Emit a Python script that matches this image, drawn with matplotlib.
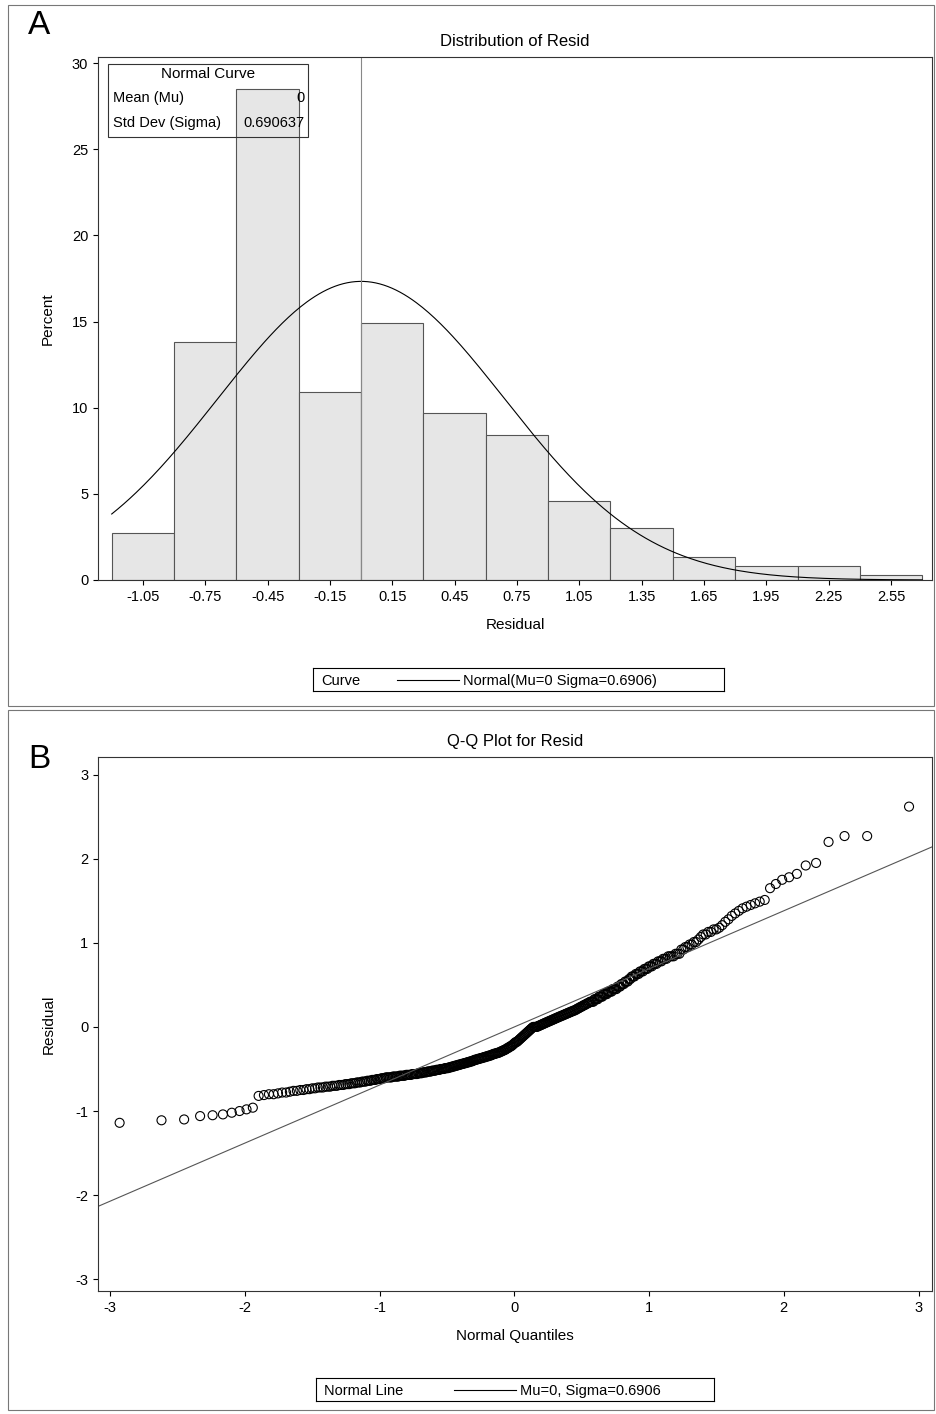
import matplotlib
matplotlib.use("Agg")
import matplotlib.pyplot as plt
import numpy as np
from statistics import NormalDist
from matplotlib.patches import Rectangle

plt.rcParams['font.family'] = ['Liberation Sans', 'DejaVu Sans']
plt.rcParams['axes.unicode_minus'] = False

# Histogram data
bin_centers = [-1.05, -0.75, -0.45, -0.15, 0.15, 0.45, 0.75, 1.05, 1.35, 1.65, 1.95, 2.25, 2.55]
percents = [2.7, 13.8, 28.5, 10.9, 14.9, 9.7, 8.4, 4.6, 3.0, 1.35, 0.8, 0.8, 0.27]
tick_labels = ["-1.05", "-0.75", "-0.45", "-0.15", "0.15", "0.45", "0.75", "1.05", "1.35", "1.65", "1.95", "2.25", "2.55"]
mu, sigma = 0.0, 0.690637

# Sorted residuals (value, frequency)
resid_values = ([-1.14, -1.11, -1.10, -1.06, -1.05, -1.04, -1.02, -1.00, -0.98, -0.96]
    + [-0.82, -0.81, -0.80, -0.79, -0.78, -0.77, -0.76, -0.75, -0.74, -0.73, -0.72, -0.71, -0.70,
       -0.69, -0.68, -0.67, -0.66, -0.65, -0.64, -0.63, -0.62, -0.61]
    + [-0.60, -0.59, -0.58, -0.57, -0.56, -0.55, -0.54, -0.53, -0.52, -0.51, -0.50, -0.49,
       -0.48, -0.47, -0.46, -0.45, -0.44, -0.43, -0.42, -0.41, -0.40, -0.39, -0.38, -0.37,
       -0.36, -0.35, -0.34, -0.33, -0.32, -0.31]
    + [-0.30, -0.29, -0.28, -0.27, -0.26, -0.25, -0.24, -0.23, -0.22, -0.21, -0.20, -0.19,
       -0.18, -0.17, -0.16, -0.15, -0.14, -0.13, -0.12, -0.11, -0.10, -0.09, -0.08, -0.07,
       -0.06, -0.05, -0.04, -0.03, -0.02, -0.01]
    + [0.00, 0.01, 0.02, 0.03, 0.04, 0.05, 0.06, 0.07, 0.08, 0.09, 0.10, 0.11, 0.12, 0.13,
       0.14, 0.15, 0.16, 0.17, 0.18, 0.19, 0.20, 0.21, 0.22, 0.23, 0.24, 0.25, 0.26, 0.27, 0.28, 0.29]
    + [0.30, 0.33, 0.36, 0.39, 0.42, 0.45, 0.48, 0.51, 0.54, 0.57]
    + [0.60, 0.63, 0.66, 0.69, 0.72, 0.75, 0.78, 0.81, 0.84, 0.87]
    + [0.92, 0.95, 0.98, 1.01, 1.04, 1.07, 1.10, 1.13, 1.16, 1.18]
    + [1.21, 1.25, 1.28, 1.32, 1.35, 1.38, 1.41, 1.43, 1.45, 1.47, 1.49]
    + [1.51, 1.65, 1.70, 1.75, 1.78, 1.82, 1.92, 1.95, 2.20, 2.27, 2.62])
resid_counts = ([1] * 10
    + [1, 1, 2, 1, 2, 1, 2, 2, 2, 2, 3, 3, 3, 3, 3, 3, 3, 3, 3, 3, 3, 3]
    + [5, 5, 5, 5, 5, 4, 4, 4, 4, 4, 4, 4, 3, 3, 3, 3, 3, 3, 3, 3, 2, 3, 3, 3, 3, 3, 3, 2, 3, 3]
    + [2, 2, 2, 2, 1, 2, 1, 2, 1, 1, 1, 1, 2, 1, 1, 1, 1, 1, 1, 1, 1, 1, 1, 1, 1, 1, 1, 1, 1, 1]
    + [5, 2, 2, 2, 2, 2, 2, 2, 2, 2, 2, 2, 2, 2, 2, 2, 2, 2, 2, 2] + [2, 1, 2, 1, 2, 1, 2, 1, 2, 1]
    + [4, 4, 4, 4, 4, 4, 3, 3, 3, 2]
    + [3, 3, 3, 3, 3, 3, 3, 3, 4, 3]
    + [2, 2, 2, 2, 1, 1, 2, 2, 2, 1]
    + [1] * 11
    + [1, 1, 1, 1, 1, 1, 1, 1, 1, 2, 1])

W, H = 936, 1414
fig = plt.figure(figsize=(W / 100, H / 100), dpi=100)

def ax_at(l, t, r, b):
    return fig.add_axes([l / W, 1 - b / H, (r - l) / W, (b - t) / H])

# panel frames
for (t, b) in [(5, 706), (710, 1410)]:
    fig.patches.append(Rectangle((8 / W, 1 - b / H), (934 - 8) / W, (b - t) / H,
                                 transform=fig.transFigure, fill=False, lw=0.8, ec='#777777'))
fig.text(28 / W, 1 - 25 / H, "A", fontsize=24, va='center', ha='left')
fig.text(28 / W, 1 - 760 / H, "B", fontsize=24, va='center', ha='left')

# ---------- Panel A ----------
ax = ax_at(98, 57, 932, 580)
ax.bar(bin_centers, percents, width=0.3, color='#e6e6e6', edgecolor='#555555', lw=0.8)
xs = np.linspace(-1.2, 2.7, 400)
ax.plot(xs, [100 * 0.3 * NormalDist(mu, sigma).pdf(v) for v in xs], color='black', lw=0.8)
ax.axvline(mu, color='#888888', lw=0.8)
ax.set_xlim(-1.266, 2.747)
ax.set_ylim(0, 30.35)
ax.set_xticks(bin_centers)
ax.set_xticklabels(tick_labels)
ax.set_yticks([0, 5, 10, 15, 20, 25, 30])
ax.tick_params(labelsize=10.5)
ax.set_xlabel("Residual", fontsize=11, labelpad=10)
ax.set_ylabel("Percent", fontsize=11, labelpad=12)
ax.set_title("Distribution of Resid", fontsize=12, pad=8)
for s in ax.spines.values():
    s.set_color('#333333')
# inset table
ax.add_patch(Rectangle((0.012, 0.847), 0.252 - 0.012, 0.14, transform=ax.transAxes,
                       fill=False, ec='#333333', lw=0.8, zorder=5))
ax.text(0.132, 0.967, "Normal Curve", transform=ax.transAxes, ha='center', va='center', fontsize=11)
ax.text(0.018, 0.922, "Mean (Mu)", transform=ax.transAxes, ha='left', va='center', fontsize=10.5)
ax.text(0.248, 0.922, "0", transform=ax.transAxes, ha='right', va='center', fontsize=10.5)
ax.text(0.018, 0.874, "Std Dev (Sigma)", transform=ax.transAxes, ha='left', va='center', fontsize=10.5)
ax.text(0.248, 0.874, "0.690637", transform=ax.transAxes, ha='right', va='center', fontsize=10.5)

# legend A
lax = ax_at(313, 668, 724, 691)
lax.set_xlim(0, 411); lax.set_ylim(0, 1)
lax.set_xticks([]); lax.set_yticks([])
lax.text(8, 0.45, "Curve", va='center', fontsize=10.5)
lax.plot([84, 146], [0.5, 0.5], color='black', lw=0.8)
lax.text(150, 0.45, "Normal(Mu=0 Sigma=0.6906)", va='center', fontsize=10.5)

# ---------- Panel B ----------
bx = ax_at(98, 757, 932, 1291)
resid = np.repeat(resid_values, resid_counts)
n = len(resid)
nd = NormalDist()
qx = np.array([nd.inv_cdf((i + 1 - 0.375) / (n + 0.25)) for i in range(n)])
bx.scatter(qx, np.sort(resid), s=42, facecolors='none', edgecolors='black', linewidths=0.8)
lx = np.array([-3.2, 3.2])
bx.plot(lx, mu + sigma * lx, color='#555555', lw=0.8)
bx.set_xlim(-3.09, 3.10)
bx.set_ylim(-3.14, 3.21)
bx.set_xticks([-3, -2, -1, 0, 1, 2, 3])
bx.set_yticks([-3, -2, -1, 0, 1, 2, 3])
bx.tick_params(labelsize=10.5)
bx.set_xlabel("Normal Quantiles", fontsize=11, labelpad=10)
bx.set_ylabel("Residual", fontsize=11, labelpad=14)
bx.set_title("Q-Q Plot for Resid", fontsize=12, pad=8)
for s in bx.spines.values():
    s.set_color('#333333')

lbx = ax_at(316, 1378, 714, 1401)
lbx.set_xlim(0, 398); lbx.set_ylim(0, 1)
lbx.set_xticks([]); lbx.set_yticks([])
lbx.text(8, 0.45, "Normal Line", va='center', fontsize=10.5)
lbx.plot([138, 200], [0.5, 0.5], color='black', lw=0.8)
lbx.text(204, 0.45, "Mu=0, Sigma=0.6906", va='center', fontsize=10.5)

fig.savefig("out.png", dpi=100)
